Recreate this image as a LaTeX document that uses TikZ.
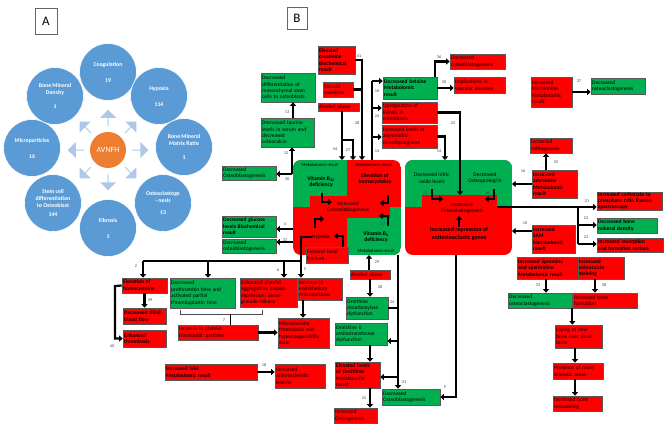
\documentclass[tikz,border=0pt]{standalone}
\usepackage{fontspec}
\setmainfont{Carlito}
\usetikzlibrary{arrows.meta,shapes.arrows}
\definecolor{bred}{HTML}{FF0000}
\definecolor{bgreen}{HTML}{00B050}
\definecolor{cblue}{HTML}{5B9BD5}
\definecolor{corange}{HTML}{ED7D31}
\definecolor{lblue}{HTML}{AFC8E8}
\tikzset{
 bxbase/.style={draw=black!65, line width=0.6pt, font=\fontsize{5.4}{6.4}\selectfont, align=left, inner xsep=1.2pt, inner ysep=0.4pt, text=black},
 rb/.style={bxbase, fill=bred},
 gb/.style={bxbase, fill=bgreen},
 bf/.style={font=\fontsize{5.4}{6.4}\selectfont\bfseries},
 arr/.style={line width=2.2pt, -{Triangle[length=3.6pt,width=6pt]}},
 ln/.style={line width=2.2pt},
 num/.style={font=\fontsize{4.2}{4.4}\selectfont, text=black!75, inner sep=0pt},
 circ/.style={circle, fill=cblue, draw=white, line width=0.6pt, minimum size=57pt, inner sep=0pt, text=white, font=\fontsize{5.8}{7}\selectfont\bfseries, align=center},
 blk/.style={inner sep=0pt, align=center, font=\fontsize{5.4}{6.4}\selectfont},
 mres/.style={inner sep=0pt, font=\fontsize{4.6}{5}\selectfont},
 blkb/.style={inner sep=0pt, align=center, font=\fontsize{5.6}{6.6}\selectfont\bfseries},
 barrow/.style={single arrow, fill=lblue, minimum height=16pt, minimum width=16pt, single arrow head extend=3pt, inner sep=0pt},
 letterbox/.style={draw=black!60, line width=0.6pt, font=\fontsize{13}{13}\selectfont},
}
\newcommand\bx[7]{%
 \pgfmathsetmacro\myW{#4-#2}%
 \pgfmathsetmacro\myH{#5-#3}%
 \pgfmathsetmacro\myX{(#2+#4)/2}%
 \pgfmathsetmacro\myY{(#3+#5)/2}%
 \pgfmathsetmacro\myT{#4-#2-2.4}%
 \node[#6, minimum width=\myW pt, minimum height=\myH pt, text width=\myT pt] (#1) at (\myX,\myY) {#7};}
\begin{document}
\begin{tikzpicture}[x=1pt,y=-1pt]
\fill[white] (0,0) rectangle (669,428);
\useasboundingbox (0,0) rectangle (669,428);
% ---------------- Panel A
\node[letterbox, minimum width=22pt, minimum height=26pt] (boxA) at (46,21) {A};
\node[circ] (coag) at (108,72) {Coagulation\\[9pt]19};
\node[circ] (hyp) at (159,96) {Hypoxia\\[9pt]114};
\node[circ] (bmmr) at (184,147) {Bone Mineral\\Matrix Ratio\\[7pt]1};
\node[circ] (osc) at (163,203) {Osteoclastoge\\- nesis\\[5pt]13};
\node[circ] (fib) at (108,228) {Fibrosis\\[9pt]1};
\node[circ] (stem) at (53,203) {Stem cell\\differentiation\\to Osteoblast\\[2pt]144};
\node[circ] (micro) at (32,148) {Microparticles\\[9pt]16};
\node[circ] (bmdA) at (55,96) {Bone Mineral\\Density\\[7pt]1};
\node[circle, fill=corange, minimum size=36pt, inner sep=0pt, text=white, font=\fontsize{8}{8}\selectfont] (avnfh) at (108,150) {AVNFH};
\foreach \a in {0,45,...,315}{\node[barrow, rotate=\a] (ba\a) at ({108+32*cos(\a)},{150-32*sin(\a)}) {};}
% ---------------- Panel B
\node[letterbox, minimum width=20pt, minimum height=22pt] (boxB) at (297,18) {B};
% left block
\begin{scope}
\clip[rounded corners=8pt] (293,160) rectangle (401,255);
\fill[bred] (293,160) rectangle (401,255);
\fill[bgreen] (293,160) rectangle (347,207);
\fill[bgreen] (347,207) rectangle (401,255);
\fill[bred] (310,196) rectangle (390,218);
\end{scope}
% right block
\begin{scope}
\clip[rounded corners=8pt] (405,160) rectangle (512,255);
\fill[bred] (405,160) rectangle (512,255);
\fill[bgreen] (405,160) rectangle (512,207);
\fill[bred] (422,195) rectangle (497,215);
\end{scope}
\node[mres] (mrTL) at (320,165) {Metabolomic result};
\node[blkb] (b12) at (321,182) {Vitamin B\textsubscript{12}\\deficiency};
\node[mres] (mrTR) at (374,165) {Metabolomic result};
\node[blkb] (hcy) at (375,179) {Elevation of\\homocysteine};
\node[blk] (ocL) at (348,207) {Increased\\Osteoclastogenesis};
\node[blk] (hypox) at (321,237) {Hypoxia};
\node[blkb] (b6) at (376,237) {Vitamin B\textsubscript{6}\\deficiency};
\node[mres] (mrBR) at (376,251) {Metabolomic result};
\node[blk] (no) at (432,178) {Decreased nitric\\oxide levels};
\node[blk] (opg) at (485,178) {Decreased\\Osteoprotegrin};
\node[blk] (ocR) at (462,208) {Increased\\Osteoclastogenesis};
\node[blkb, font=\fontsize{6}{7.2}\selectfont\bfseries] (repr) at (459,234) {Increased repression of\\antiosteoclastic genes};
% boxes
\bx{creat}{318}{46}{355}{74}{rb,bf}{Elevated\\creatinine\\Biochemical\\result}
\bx{steroid}{323}{82}{353}{97}{rb}{Steroid\\overdose}
\bx{alcoT}{318}{103}{359}{111}{rb}{Alcohol abuse}
\bx{mesen}{261}{73}{315}{102}{gb}{Decreased\\differentiation of\\mesenchymal stem\\cells to osteoblasts}
\bx{taurine}{261}{118}{314}{147}{gb}{Decreased taurine\\levels in serum and\\decreased\\osteocalcin}
\bx{oblast1}{222}{166}{276}{180}{gb}{Decreased\\Osteoblastogenesis}
\bx{glucose}{222}{216}{276}{237}{gb,bf}{Decreased glucose\\levels Biochemical\\result}
\bx{oblast2}{222}{239}{276}{253}{gb}{Decreased\\osteoblastogenesis}
\bx{betaine}{383}{77}{437}{99}{gb,bf}{Decreased betaine\\Metabolomic\\result}
\bx{obl3}{450}{54}{505}{69}{rb}{Decreased\\osteoblastogenesis}
\bx{vasc}{454}{77}{505}{93}{rb}{Implications in\\vascular diseases}
\bx{rankl}{382}{102}{437}{123}{rb}{Upregulation of\\RANKL in\\osteoblasts}
\bx{adma}{382}{125}{437}{148}{rb}{Increased levels of\\asymmetric\\dimethylarginine}
\bx{methio}{531}{77}{572}{107}{rb}{Increased\\Methionine\\Metabolomic\\result}
\bx{oclast1}{591}{78}{645}{94}{gb}{Decreased\\osteoclastogenesis}
\bx{osteog}{530}{138}{572}{153}{rb}{Increased\\osteogenesis}
\bx{adeno}{532}{170}{577}{198}{rb,bf}{Increased\\adenosine\\Metabolomic\\result}
\bx{sam}{532}{225}{575}{253}{rb,bf}{Increased\\SAM\\Metabolomic\\result}
\bx{carb}{597}{192}{662}{210}{rb,bf}{Increased carbonate to\\phosphate ratio Raman\\spectroscopy}
\bx{bmd}{597}{218}{657}{233}{gb,bf}{Decreased bone\\mineral density}
\bx{resorp}{597}{238}{663}{252}{rb,bf}{Increased resorption\\and formation surface}
\bx{spermine}{517}{257}{579}{279}{rb,bf}{Increased Spermine\\and spermidine\\Metabolomic result}
\bx{ocalcin}{578}{257}{624}{279}{rb,bf}{Increased\\osteocalcin\\staining}
\bx{oclast2}{508}{293}{572}{308}{gb}{Decreased\\osteoclastogenesis}
\bx{boneform}{573}{293}{637}{308}{rb}{Increased bone\\formation}
\bx{laying}{555}{325}{602}{348}{rb}{Laying of new\\bone over dead\\bone}
\bx{sclerotic}{553}{363}{603}{379}{rb}{Presence of more\\sclerotic areas}
\bx{remodel}{553}{396}{602}{411}{rb}{Increased bone\\remodeling}
\bx{femoral}{306}{247}{348}{263}{rb}{Femoral head\\fracture}
\bx{endo}{298}{278}{342}{300}{rb}{Increase in\\endothelium\\microparticles}
\bx{platelet}{240}{278}{297}{307}{rb}{Enhanced platelet\\aggregation, calpain\\expression, dense\\granule release}
\bx{prothr}{170}{278}{235}{308}{gb}{Decreased\\prothrombin time and\\activated partial\\thromboplastin time}
\bx{elevhcy}{122}{278}{167}{293}{rb,bf}{Elevation of\\homocysteine}
\bx{tibial}{123}{308}{166}{324}{rb,bf}{Decreased tibial\\blood flow}
\bx{thromb}{123}{330}{166}{347}{rb,bf}{Enhanced\\thrombosis}
\bx{ptp}{178}{325}{258}{340}{rb}{Increase in platelet\\thrombotic particles}
\bx{microv}{278}{318}{329}{348}{rb}{Microvascular\\thrombosis and\\hypercoagulability\\state}
\bx{alco2}{350}{270}{390}{279}{rb}{Alcohol abuse}
\bx{odc}{346}{297}{388}{319}{gb}{Ornithine\\decarboxylase\\dysfunction}
\bx{oat}{335}{323}{387}{345}{gb}{Ornithine δ\\aminotransferase\\dysfunction}
\bx{ornith}{335}{362}{380}{388}{rb}{\textbf{Elevated levels}\\\textbf{of Ornithine}\\Metabolomic\\result}
\bx{osteogen2}{334}{408}{377}{423}{rb}{Increased\\Osteogenesis}
\bx{oblast4}{382}{389}{440}{405}{gb}{Decreased\\Osteoblastogenesis}
\bx{sah}{165}{364}{257}{380}{rb,bf}{Increased SAH\\Metabolomic result}
\bx{athero}{275}{364}{325}{388}{rb}{Increased\\atherosclerotic\\lesions}
% coordinates
\coordinate (c44) at (342,160);
\coordinate (j44) at (342,140);
\coordinate (c27) at (353,160);
\coordinate (c28) at (362,160);
\coordinate (c14a) at (372,160);
\coordinate (j10) at (372,81);
\coordinate (j24) at (372,108);
\coordinate (j14) at (372,137);
\coordinate (x435) at (435,0);
\coordinate (c25) at (460,195);
\coordinate (c14b) at (445,160);
\coordinate (x546) at (546,0);
\coordinate (x595) at (595,0);
\coordinate (x575) at (575,0);
\coordinate (Rr1) at (512,177);
\coordinate (Rr2) at (512,231);
\coordinate (ocRe) at (497,207);
\coordinate (j22) at (578,207);
\coordinate (j22b) at (578,225);
\coordinate (j23) at (578,244);
\coordinate (c12) at (292,174);
\coordinate (x293) at (293,0);
\coordinate (L4) at (293,229);
\coordinate (L32) at (293,242);
\coordinate (x343) at (343,0);
\coordinate (hyl) at (334,236);
\coordinate (x301) at (301,0);
\coordinate (h5) at (301,261);
\coordinate (h2) at (143,261);
\coordinate (h6) at (284,261);
\coordinate (h7) at (208,261);
\coordinate (k40) at (115,286);
\coordinate (x230) at (230,0);
\coordinate (x303) at (303,0);
\coordinate (x369) at (369,0);
\coordinate (c29) at (369,255);
\coordinate (x370) at (370,0);
\coordinate (v0) at (398,255);
\coordinate (v1) at (398,308);
\coordinate (v2) at (398,341);
\coordinate (v3) at (398,377);
\coordinate (x398) at (398,0);
\coordinate (r0) at (456,255);
\coordinate (r1) at (456,397);
% connectors top-left
\draw[arr] (alcoT.south -| c44) -- (c44);
\draw[arr] (j44) -| (c27);
\draw[arr] (creat.east) -| (c28);
\draw[ln] (steroid.east) -- (steroid.east -| c28);
\draw[ln] (c14a) -- (j10);
\draw[arr] (j10) -- (betaine.west |- j10);
\draw[arr] (j24) -- (rankl.west |- j24);
\draw[arr] (j14) -- (adma.west |- j14);
\draw[arr] (betaine.north -| x435) |- (obl3.west);
\draw[arr] (betaine.east) -- (vasc.west |- betaine.east);
\draw[arr] (rankl.east) -| (c25);
\draw[arr] (adma.east) -| (c14b);
\draw[arr] (methio.east) -- (oclast1.west |- methio.east);
\draw[arr] (adeno.north -| x546) -- (osteog.south -| x546);
\draw[arr] (adeno.west) -- (adeno.west -| Rr1);
\draw[arr] ([yshift=8pt]sam.west) -- ([yshift=8pt]sam.west -| Rr2);
\draw[arr] (ocRe) -- (carb.west |- ocRe);
\draw[ln] (j22) -- (j23);
\draw[arr] (j22b) -- (bmd.west |- j22b);
\draw[arr] (j23) -- (resorp.west |- j23);
\draw[arr] (spermine.south -| x546) -- (oclast2.north -| x546);
\draw[arr] (ocalcin.south -| x595) -- (boneform.north -| x595);
\draw[arr] (oclast2.south east) -- (oclast2.south east |- laying.north);
\draw[arr] (laying.south -| x575) -- (sclerotic.north -| x575);
\draw[arr] (sclerotic.south -| x575) -- (remodel.north -| x575);
% left side of left block
\draw[arr] (taurine.north -| x293) -- (mesen.south -| x293);
\draw[arr] (c12) -- (c12 |- taurine.south);
\draw[arr] (c12) -- (oblast1.east |- c12);
\draw[arr] (L4) -- (glucose.east |- L4);
\draw[arr] (L32) -- (oblast2.east |- L32);
% inside blocks
\coordinate (i11a) at (322,193); \coordinate (i11b) at (332,202);
\coordinate (i3a) at (315,228); \coordinate (i3b) at (324,219);
\coordinate (i17a) at (388,226); \coordinate (i17b) at (379,216);
\coordinate (ihca) at (388,195); \coordinate (ihcb) at (380,203);
\coordinate (i15a) at (432,189); \coordinate (i15b) at (443,199);
\coordinate (i16a) at (494,189); \coordinate (i16b) at (485,199);
\coordinate (irep) at (459,227); \coordinate (iocR) at (459,216);
\draw[arr] (i11a) |- (i11b);
\draw[arr] (i3a) |- (i3b);
\draw[arr] (i17a) |- (i17b);
\draw[arr] (ihca) |- (ihcb);
\draw[arr] (i15a) |- (i15b);
\draw[arr] (i16a) |- (i16b);
\draw[arr] (irep) -- (iocR);
% hypoxia / thrombosis part
\draw[arr] (femoral.north -| x343) |- (hyl);
\draw[arr] (hypox.west) -| (endo.north -| x301);
\draw[ln] (h5) -- (h2);
\draw[arr] (h2) -- (elevhcy.north -| h2);
\draw[arr] (h6) -- (platelet.north -| h6);
\draw[arr] (h7) -- (prothr.north -| h7);
\draw[arr] (elevhcy.south) -- (tibial.north);
\draw[arr] (elevhcy.west) -- (k40) |- (thromb.west);
\draw[line width=0.5pt, black!70] (180,310) -- (180,314) -- (262,314) -- (262,310);
\draw[line width=0.7pt] (230,314) -- (ptp.north -| x230);
\draw[arr] (ptp.east) -- (microv.west |- ptp.east);
\draw[arr] (endo.south -| x303) -- (microv.north -| x303);
\draw[arr] (alco2.north -| x369) -- (c29);
\draw[arr] (alco2.south -| x370) -- (odc.north -| x370);
\draw[arr] (v0) -- (oblast4.north -| x398);
\draw[ln] (odc.east |- v1) -- (v1);
\draw[arr] (v2) -- (oat.east |- v2);
\draw[arr] (v3) -- (ornith.east |- v3);
\draw[arr] (oat.south -| x370) -- (ornith.north -| x370);
\draw[arr] (ornith.south -| x370) -- (osteogen2.north -| x370);
\draw[arr] (r0) |- (oblast4.east |- r1);
\draw[arr] (sah.east) -- (athero.west |- sah.east);
% number labels
\node[num] (l41) at (359,56) {41};
\node[num] (l44) at (335,149) {44};
\node[num] (l27) at (348,150) {27};
\node[num] (l28a) at (357,123) {28};
\node[num] (l10a) at (377,91) {10};
\node[num] (l24) at (377,116) {24};
\node[num] (l14a) at (377,151) {14};
\node[num] (l36) at (439,57) {36};
\node[num] (l20) at (444,82) {20};
\node[num] (l25) at (453,123) {25};
\node[num] (l14b) at (439,151) {14};
\node[num] (l37) at (579,81) {37};
\node[num] (l35) at (556,162) {35};
\node[num] (l16a) at (523,171) {16};
\node[num] (l10b) at (525,223) {10};
\node[num] (l21) at (587,201) {21};
\node[num] (l22) at (586,218) {22};
\node[num] (l23) at (586,237) {23};
\node[num] (l33a) at (538,285) {33};
\node[num] (l38) at (604,285) {38};
\node[num] (l13) at (287,112) {13};
\node[num] (l12) at (286,153) {12};
\node[num] (l30) at (287,179) {30};
\node[num] (l4) at (285,224) {4};
\node[num] (l32) at (285,240) {32};
\node[num] (l11) at (316,202) {11};
\node[num] (l3) at (318,213) {3};
\node[num] (l17) at (383,224) {17};
\node[num] (l15) at (425,193) {15};
\node[num] (l16b) at (487,193) {16};
\node[num] (l1) at (339,243) {1};
\node[num] (l2) at (136,266) {2};
\node[num] (l6) at (278,270) {6};
\node[num] (l5) at (305,269) {5};
\node[num] (l39) at (150,300) {39};
\node[num] (l40) at (112,346) {40};
\node[num] (l7) at (224,320) {7};
\node[num] (l29) at (377,262) {29};
\node[num] (l28b) at (380,287) {28};
\node[num] (l34a) at (392,302) {34};
\node[num] (l31) at (404,382) {31};
\node[num] (l34b) at (364,398) {34};
\node[num] (l9) at (445,387) {9};
\node[num] (l18) at (264,365) {18};
\end{tikzpicture}
\end{document}
